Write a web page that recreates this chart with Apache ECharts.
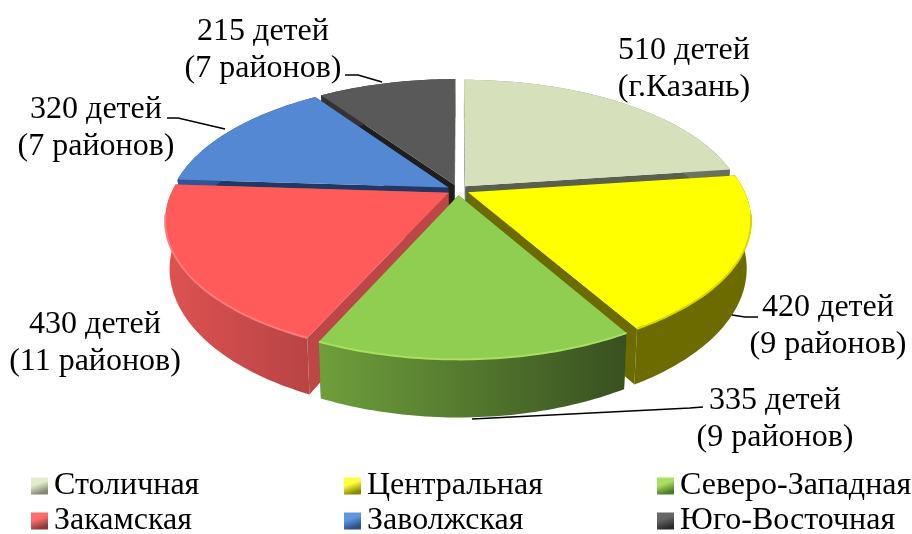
<!DOCTYPE html>
<html><head><meta charset="utf-8">
<style>html,body{margin:0;padding:0;background:#fff}#c{width:912px;height:534px}</style>
<script src="https://cdn.jsdelivr.net/npm/echarts@6/dist/echarts.min.js"></script>
</head><body><div id="c"></div>
<script>
// Data
const categories = ['Столичная','Центральная','Северо-Западная','Закамская','Заволжская','Юго-Восточная'];
const children = [510,420,335,430,320,215];
const subLabels = ['(г.Казань)','(9 районов)','(9 районов)','(11 районов)','(7 районов)','(7 районов)'];
// Styling
const topColors = ['#d6e1bc','#ffff00','#8fce50','#ff5b5b','#5588d3','#595959'];
const wallColors = ['#5a5f4e','#6b6b00','#4c7a2a','#bd4747','#1f3864','#1e1e1e'];
const outerFrom = ['#8a9076','#6b6b00','#6f9f3c','#de5252','#2f5597','#333333'];
const outerTo = ['#6a7058','#6b6b00','#385020','#b84444','#2f5597','#333333'];
const rimColors = ['#d6e1bc','#d8d800','#a8e060','#ff7c7c','#5588d3','#595959'];
const iconLight = ['#e4ecd0','#ffff40','#a8e060','#ff6e6e','#5f96e0','#666666'];
const iconDark = ['#84896f','#8a8a00','#4c7a2a','#8a3a3a','#2a4f85','#2a2a2a'];
const labelCenters = [[684,51],[828,308],[775,401],[95,325],[96,110],[263,32]];
const leaders = [null,
  [[758,317],[745,317],[732,315]],
  [[703,407],[690,408],[472,419]],
  null,
  [[167,118],[178,118],[225,129]],
  [[345,75],[358,75],[382,82]]];
const paintOrder = [5,0,4,1,3,2];
const FONT = '"Liberation Serif","Times New Roman",serif';
const TEXT_SIZE = 32, LINE = 37;
const CX = 458, CY = 190, RX = 276, RY = 129, K = 0.2, DEPTH = 46, TAPER = 0.015, EXPLODE = 0.04;
const legendSlots = [[31,470],[344,470],[657,470],[31,505],[344,505],[657,505]];

const total = children.reduce((a,b)=>a+b,0);
function project(u,v,z){
  const w = 1 - K*v;
  return [CX + RX*u/w*(1-TAPER*z), CY + (RY*v + DEPTH*z)/w];
}
function renderSlice(i){
  return function(params, api){
    const val = api.value(0);
    let before = 0; for(let j=0;j<i;j++) before += children[j];
    const a0 = before/total*Math.PI*2, a1 = (before+val)/total*Math.PI*2, mid=(a0+a1)/2;
    const ox = EXPLODE*Math.sin(mid), oy = -EXPLODE*Math.cos(mid);
    const at=(a,z)=>project(ox+Math.sin(a),oy-Math.cos(a),z);
    const tip=z=>project(ox,oy,z);
    const n = Math.max(8,Math.ceil((a1-a0)/(Math.PI/180)));
    const topArc=[],botArc=[];
    for(let s=0;s<=n;s++){const a=a0+(a1-a0)*s/n;topArc.push(at(a,0));botArc.push(at(a,1));}
    const kids=[];
    const poly=(pts,fill)=>({type:'polygon',shape:{points:pts},style:{fill:fill}});
    kids.push(poly([tip(0),at(a0,0),at(a0,1),tip(1)],wallColors[i]));
    kids.push(poly([tip(0),at(a1,0),at(a1,1),tip(1)],wallColors[i]));
    const xs=topArc.map(p=>p[0]);
    const grad={type:'linear',global:true,x:Math.min.apply(null,xs),y:0,x2:Math.max.apply(null,xs),y2:0,
      colorStops:[{offset:0,color:outerFrom[i]},{offset:1,color:outerTo[i]}]};
    kids.push(poly(topArc.concat(botArc.slice().reverse()),grad));
    kids.push(poly([tip(0)].concat(topArc),topColors[i]));
    const front=topArc.filter((p,s)=>{const a=a0+(a1-a0)*s/n;return -Math.cos(a)>0.15;});
    if(front.length>1) kids.push({type:'polyline',shape:{points:front},style:{fill:null,stroke:rimColors[i],lineWidth:2}});
    if(leaders[i]) kids.push({type:'polyline',shape:{points:leaders[i]},style:{fill:null,stroke:'#000',lineWidth:1.6}});
    const c=labelCenters[i];
    [val+' детей',subLabels[i]].forEach((t,k)=>kids.push({type:'text',style:{
      x:c[0],y:c[1]+k*LINE,text:t,fill:'#000',font:TEXT_SIZE+'px '+FONT,align:'center',verticalAlign:'middle'}}));
    return {type:'group',children:kids};
  };
}
const series = paintOrder.map(i=>({
  type:'custom',name:categories[i],coordinateSystem:'none',silent:true,animation:false,
  itemStyle:{color:topColors[i]},data:[[children[i]]],renderItem:renderSlice(i)
}));
const legendOrder=[0,1,2,3,4,5];
const legend=legendOrder.map((i,slot)=>({
  left:legendSlots[slot][0],top:legendSlots[slot][1],itemWidth:17,itemHeight:17,selectedMode:false,padding:0,
  data:[{name:categories[i],icon:'rect',itemStyle:{color:{type:'linear',x:0,y:0,x2:0.35,y2:1,
    colorStops:[{offset:0,color:iconLight[i]},{offset:0.45,color:iconLight[i]},{offset:1,color:iconDark[i]}]}}}],
  textStyle:{fontFamily:FONT,fontSize:TEXT_SIZE,color:'#000',lineHeight:30,padding:[0,0,0,1]}
}));
const chart=echarts.init(document.getElementById('c'),null,{renderer:'canvas'});
chart.setOption({animation:false,backgroundColor:'#fff',legend:legend,series:series});
</script></body></html>
